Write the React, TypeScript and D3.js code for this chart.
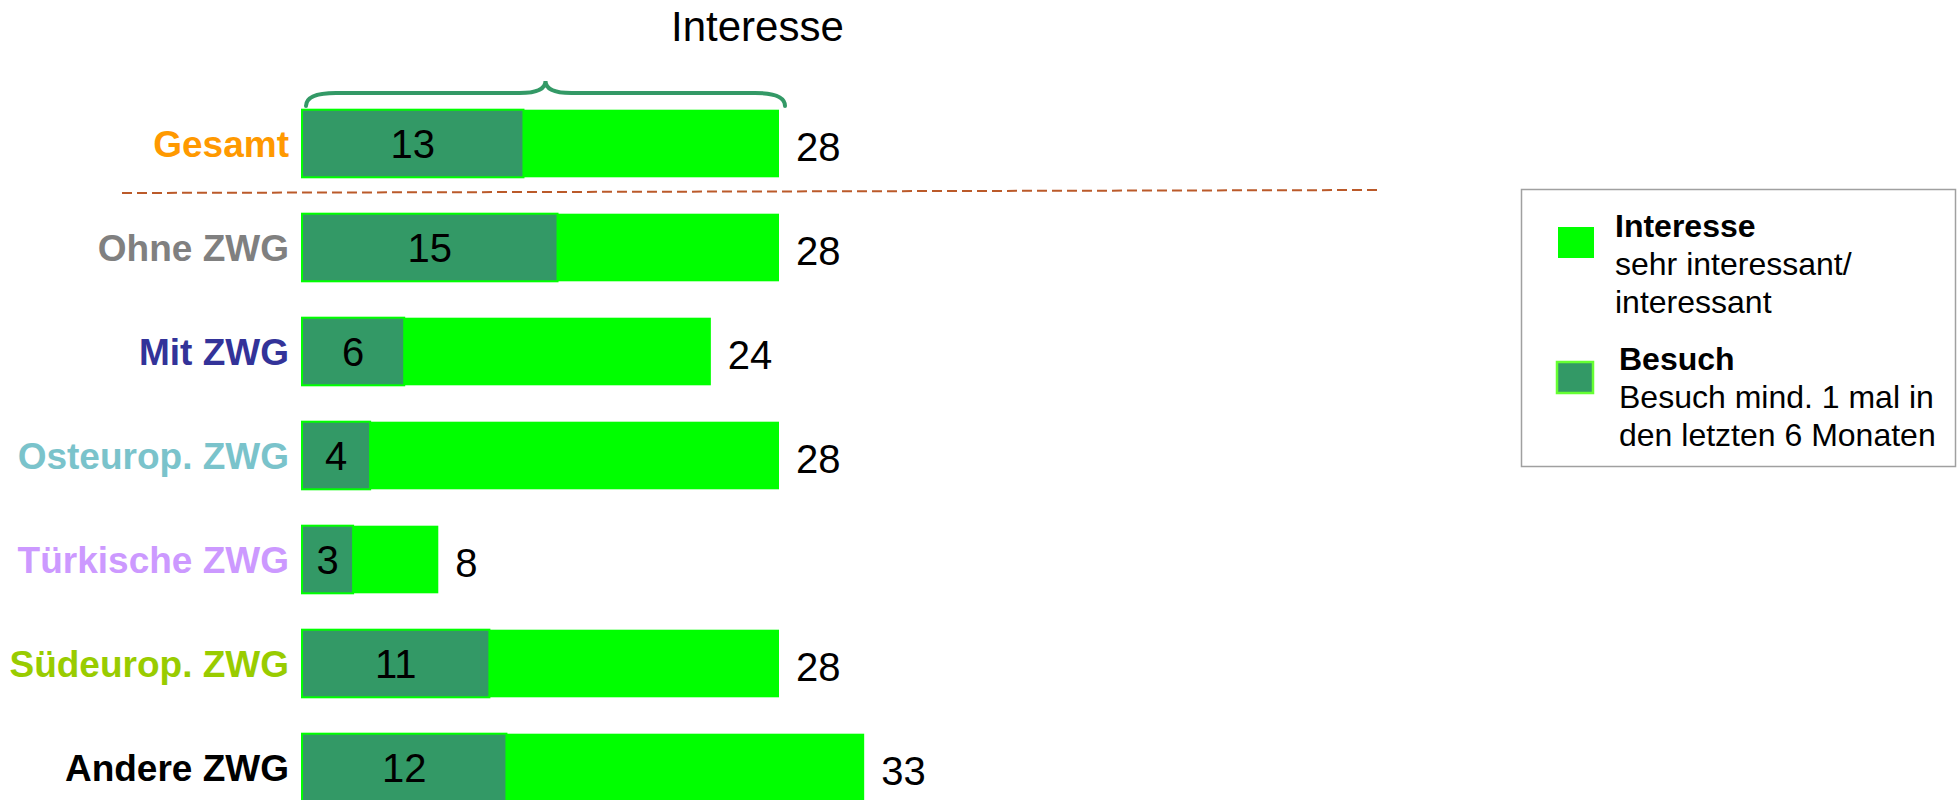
import * as d3 from "d3";

const categories = [
  "Gesamt",
  "Ohne ZWG",
  "Mit ZWG",
  "Osteurop. ZWG",
  "Türkische ZWG",
  "Südeurop. ZWG",
  "Andere ZWG",
];
const interesse = [28, 28, 24, 28, 8, 28, 33];
const besuch = [13, 15, 6, 4, 3, 11, 12];
const labelColors = [
  "#ff9900",
  "#808080",
  "#333399",
  "#7ac3cb",
  "#cc99ff",
  "#99cc00",
  "#000000",
];

const legendItems = [
  { title: "Interesse", lines: ["sehr interessant/", "interessant"] },
  { title: "Besuch", lines: ["Besuch mind. 1 mal in", "den letzten 6 Monaten"] },
];

const W = 1957;
const H = 800;
const FONT = "'Liberation Sans', Arial, sans-serif";
const GREEN = "#00ff00";
const DARK = "#339966";

export default function App() {
  // horizontal value scale
  const x = d3.scaleLinear().domain([0, 28]).range([302, 779]);
  const y = d3
    .scaleBand()
    .domain(categories)
    .range([91.5, 819.5])
    .paddingInner(0.35)
    .paddingOuter(0.175);

  const bh = y.bandwidth();

  // brace over the Gesamt bar
  const bx1 = x(0) + 4;
  const bx2 = x(interesse[0]) + 6;
  const cx = (bx1 + bx2) / 2;
  const bTop = 81;
  const bMid = 93;
  const bEnd = 106;
  const brace = `M${bx1},${bEnd} Q${bx1},${bMid} ${bx1 + 30},${bMid} L${cx - 26},${bMid} Q${cx},${bMid} ${cx},${bTop} Q${cx},${bMid} ${cx + 26},${bMid} L${bx2 - 30},${bMid} Q${bx2},${bMid} ${bx2},${bEnd}`;

  return (
    <svg
      width={W}
      height={H}
      style={{ position: "absolute", left: 0, top: 0, background: "#fff" }}
      fontFamily={FONT}
    >
      <text x={671} y={41} fontSize={42} fill="#000">
        Interesse
      </text>
      <path d={brace} fill="none" stroke={DARK} strokeWidth={4} strokeLinecap="round" />

      <line
        x1={122}
        y1={193}
        x2={1379}
        y2={190}
        stroke="#bb5a2a"
        strokeWidth={2}
        strokeDasharray="10,5"
      />

      {categories.map((c, i) => {
        const top = y(c)!;
        const mid = top + bh / 2;
        return (
          <g key={c}>
            <text
              x={289}
              y={mid + 13}
              textAnchor="end"
              fontSize={37}
              fontWeight="bold"
              fill={labelColors[i]}
            >
              {c}
            </text>
            <rect x={x(0)} y={top} width={x(interesse[i]) - x(0)} height={bh} fill={GREEN} />
            <rect
              x={x(0)}
              y={top}
              width={x(besuch[i]) - x(0)}
              height={bh}
              fill={DARK}
              stroke={GREEN}
              strokeWidth={2}
            />
            <text
              x={(x(0) + x(besuch[i])) / 2}
              y={mid + 14}
              textAnchor="middle"
              fontSize={40}
              fill="#000"
            >
              {besuch[i]}
            </text>
            <text x={x(interesse[i]) + 17} y={mid + 17} fontSize={40} fill="#000">
              {interesse[i]}
            </text>
          </g>
        );
      })}

      <rect x={1521.5} y={189.5} width={434} height={277} fill="#fff" stroke="#a0a0a0" strokeWidth={1.5} />
      {legendItems.map((item, i) => {
        const top = i === 0 ? 237 : 370;
        const tx = i === 0 ? 1615 : 1619;
        return (
          <g key={item.title}>
            <rect
              x={i === 0 ? 1558 : 1557}
              y={i === 0 ? 227 : 362}
              width={36}
              height={31}
              fill={i === 0 ? GREEN : DARK}
              stroke={i === 0 ? "none" : "#66ff33"}
              strokeWidth={2.5}
            />
            <text x={tx} y={top} fontSize={32} fontWeight="bold" fill="#000">
              {item.title}
            </text>
            {item.lines.map((l, j) => (
              <text key={l} x={tx} y={top + 38 * (j + 1)} fontSize={32} fill="#000">
                {l}
              </text>
            ))}
          </g>
        );
      })}
    </svg>
  );
}
